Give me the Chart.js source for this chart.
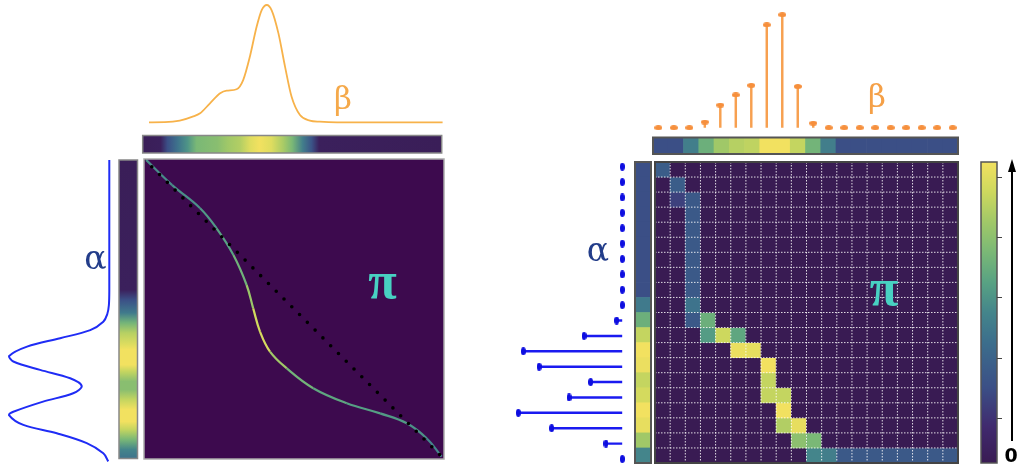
<!DOCTYPE html>
<html>
<head>
<meta charset="utf-8">
<script src="https://cdn.jsdelivr.net/npm/chart.js@4.4.1/dist/chart.umd.min.js"></script>
<style>
html, body { margin: 0; padding: 0; background: #fff; }
#stage { position: relative; width: 1017px; height: 467px; overflow: hidden; }
#stage canvas { position: absolute; }
.lbl { position: absolute; z-index: 5; line-height: 1; white-space: nowrap; transform: translate(-50%, -50%); font-family: "DejaVu Serif", serif; }
.pi { font-family: "Liberation Serif", serif; font-weight: bold; font-size: 52px; color: #48d1c2; }
</style>
</head>
<body>
<div id="stage">
  <span class="lbl" style="left:343px; top:97.5px; font-size:31px; color:#f5a94a;">β</span>
  <span class="lbl" style="left:95.5px; top:256.5px; font-size:33px; color:#233d8a;">α</span>
  <span class="lbl pi" style="left:382.5px; top:281px;">π</span>
  <span class="lbl" style="left:877px; top:95.5px; font-size:31px; color:#f5a047;">β</span>
  <span class="lbl" style="left:598px; top:249px; font-size:33px; color:#233d8a;">α</span>
  <span class="lbl pi" style="left:884px; top:287.5px;">π</span>
  <span class="lbl" style="left:1011px; top:455px; font-size:19px; font-weight:bold; color:#000; font-family:'DejaVu Sans', sans-serif;">0</span>
</div>
<script>
// ---- left panel: continuous densities (position 0..1, density 0..1) ----
const betaPos  = [0.021, 0.074, 0.124, 0.167, 0.192, 0.225, 0.259, 0.281, 0.314, 0.336, 0.359, 0.381, 0.398, 0.415, 0.431, 0.454, 0.476, 0.498, 0.526, 0.559, 0.592, 0.65, 1.003];
const betaDens = [0, 0.001, 0.014, 0.048, 0.077, 0.162, 0.247, 0.27, 0.282, 0.36, 0.566, 0.815, 0.957, 1.0, 0.957, 0.758, 0.475, 0.218, 0.062, 0.014, 0.005, 0, 0];
const betaBarPos   = [0, 0.06, 0.083, 0.117, 0.15, 0.18, 0.25, 0.285, 0.325, 0.36, 0.39, 0.43, 0.47, 0.5, 0.535, 0.565, 0.59, 1];
const betaBarShade = [0.02, 0.04, 0.25, 0.42, 0.55, 0.7, 0.74, 0.8, 0.84, 0.95, 1.0, 0.95, 0.82, 0.7, 0.47, 0.27, 0.04, 0.02];

const alphaPos  = [0, 0.435, 0.485, 0.515, 0.541, 0.569, 0.596, 0.624, 0.656, 0.674, 0.702, 0.730, 0.756, 0.780, 0.808, 0.842, 0.853, 0.886, 0.914, 0.947, 0.981, 1.008];
const alphaDens = [0, 0, 0.004, 0.02, 0.06, 0.19, 0.49, 0.82, 1.0, 0.957, 0.69, 0.39, 0.275, 0.36, 0.66, 0.957, 1.0, 0.857, 0.524, 0.225, 0.06, 0.01];
const alphaBarPos   = [0, 0.435, 0.468, 0.512, 0.545, 0.579, 0.619, 0.635, 0.686, 0.709, 0.742, 0.769, 0.803, 0.836, 0.876, 0.903, 0.936, 0.97, 1];
const alphaBarShade = [0.02, 0.04, 0.25, 0.45, 0.68, 0.85, 0.95, 1.0, 1.0, 0.88, 0.74, 0.74, 0.88, 1.0, 1.0, 0.88, 0.7, 0.5, 0.42];

// transport map (u = beta position, v = alpha position)
const piU     = [0.007, 0.094, 0.187, 0.242, 0.298, 0.342, 0.364, 0.387, 0.42, 0.476, 0.564, 0.676, 0.787, 0.876, 0.942, 0.992];
const piV     = [0.003, 0.087, 0.164, 0.231, 0.32, 0.42, 0.498, 0.576, 0.642, 0.698, 0.764, 0.814, 0.848, 0.881, 0.931, 0.992];
const piShade = [0.52, 0.52, 0.55, 0.58, 0.62, 0.72, 0.85, 0.97, 0.88, 0.72, 0.64, 0.6, 0.58, 0.56, 0.52, 0.48];
const diagU = [0, 1];
const diagV = [0, 1];

// ---- right panel: 20 bins ----
const binLabels = Array.from({ length: 20 }, (_, i) => i);
const betaMass  = [0, 0, 0, 0.05, 0.2, 0.29, 0.375, 0.91, 1.0, 0.365, 0.04, 0, 0, 0, 0, 0, 0, 0, 0, 0];
const alphaMass = [0, 0, 0, 0, 0, 0, 0, 0, 0, 0, 0.054, 0.368, 0.952, 0.8, 0.304, 0.512, 1.0, 0.679, 0.157, 0];
const betaShade  = [0.25, 0.25, 0.47, 0.66, 0.8, 0.85, 0.87, 1.0, 1.0, 0.88, 0.68, 0.47, 0.25, 0.25, 0.25, 0.25, 0.25, 0.25, 0.25, 0.25];
const alphaShade = [0.25, 0.25, 0.25, 0.25, 0.25, 0.25, 0.25, 0.25, 0.25, 0.45, 0.66, 0.88, 1.0, 0.98, 0.88, 0.92, 1.0, 0.97, 0.8, 0.5];
// [row, col, shade] of the non-empty coupling cells
const piCells = [
    [0, 0, 0.32], [1, 1, 0.32], [2, 1, 0.2], [2, 2, 0.3],
    [3, 2, 0.3], [4, 2, 0.3], [5, 2, 0.3], [6, 2, 0.3], [7, 2, 0.3], [8, 2, 0.3],
    [9, 2, 0.42], [10, 2, 0.3], [10, 3, 0.66],
    [11, 3, 0.58], [11, 4, 0.9], [11, 5, 0.62],
    [12, 5, 0.98], [12, 6, 0.97], [13, 7, 1.0], [14, 7, 0.88],
    [15, 7, 0.88], [15, 8, 0.88], [16, 8, 1.0], [17, 8, 0.84], [17, 9, 0.97],
    [18, 9, 0.75], [18, 10, 0.7],
    [19, 10, 0.5], [19, 11, 0.47], [19, 12, 0.3], [19, 13, 0.3], [19, 14, 0.3], [19, 15, 0.3],
    [19, 16, 0.3], [19, 17, 0.3], [19, 18, 0.3], [19, 19, 0.3]
];
const cbTicks = [0.15, 0.35, 0.55, 0.75, 0.95];

// washed viridis, as it looks in the picture
const vStops = [
    [0.00, [57, 27, 83]], [0.12, [64, 42, 110]], [0.25, [59, 79, 134]], [0.40, [60, 110, 140]],
    [0.50, [68, 133, 139]], [0.60, [88, 162, 131]], [0.70, [122, 184, 118]], [0.80, [160, 200, 104]],
    [0.90, [205, 216, 94]], [1.00, [242, 225, 96]]
];

function shade(v) {
    v = Math.max(0, Math.min(1, v));
    for (let i = 1; i < vStops.length; i++) {
        const [p1, c1] = vStops[i];
        if (v <= p1) {
            const [p0, c0] = vStops[i - 1];
            const f = (v - p0) / (p1 - p0);
            return 'rgb(' + c0.map((c, k) => Math.round(c + (c1[k] - c) * f)).join(',') + ')';
        }
    }
    return 'rgb(242,225,96)';
}

Chart.defaults.animation = false;
Chart.defaults.responsive = false;
Chart.defaults.events = [];
Chart.defaults.plugins.legend.display = false;
Chart.defaults.plugins.tooltip.enabled = false;

// fill chart area before datasets
Chart.register({
    id: 'backdrop',
    beforeDatasetsDraw(chart, args, opts) {
        if (!opts || !opts.color) return;
        const a = chart.chartArea;
        chart.ctx.save();
        chart.ctx.fillStyle = opts.color;
        chart.ctx.fillRect(a.left, a.top, a.right - a.left, a.bottom - a.top);
        chart.ctx.restore();
    }
});

// dotted white cell grid
Chart.register({
    id: 'cellgrid',
    afterDatasetsDraw(chart, args, opts) {
        if (!opts || !opts.count) return;
        const a = chart.chartArea, ctx = chart.ctx;
        const sx = chart.scales.x, sy = chart.scales.y;
        ctx.save();
        ctx.strokeStyle = 'rgba(255,255,255,0.85)';
        ctx.lineWidth = 1;
        ctx.setLineDash([1.5, 1.5]);
        for (let i = 1; i < opts.count; i++) {
            const px = (sx.getPixelForValue(i - 1) + sx.getPixelForValue(i)) / 2;
            ctx.beginPath(); ctx.moveTo(px, a.top); ctx.lineTo(px, a.bottom); ctx.stroke();
            const py = sy.getPixelForValue(i);
            ctx.beginPath(); ctx.moveTo(a.left, py); ctx.lineTo(a.right, py); ctx.stroke();
        }
        ctx.restore();
    }
});

// border round the chart area
Chart.register({
    id: 'frame',
    afterDraw(chart, args, opts) {
        if (!opts || !opts.color) return;
        const a = chart.chartArea, ctx = chart.ctx;
        ctx.save();
        ctx.strokeStyle = opts.color;
        ctx.lineWidth = opts.width || 1;
        ctx.strokeRect(a.left, a.top, a.right - a.left, a.bottom - a.top);
        ctx.restore();
    }
});

const stage = document.getElementById('stage');

// put a chart so that its chart area is exactly rect = [x, y, w, h] on the page
function place(rect, config, pad = 6) {
    const [x, y, w, h] = rect;
    const left = Math.floor(x) - pad, top = Math.floor(y) - pad;
    const width = Math.ceil(x + w) + pad - left, height = Math.ceil(y + h) + pad - top;
    const canvas = document.createElement('canvas');
    canvas.width = width;
    canvas.height = height;
    canvas.style.left = left + 'px';
    canvas.style.top = top + 'px';
    canvas.style.width = width + 'px';
    canvas.style.height = height + 'px';
    stage.appendChild(canvas);
    config.options = config.options || {};
    config.options.layout = { padding: { left: x - left, top: y - top, right: left + width - x - w, bottom: top + height - y - h } };
    return new Chart(canvas, config);
}

function hiddenLinear(extra) {
    return Object.assign({ type: 'linear', min: 0, max: 1, display: false }, extra || {});
}

function gradientFill(positions, shades, axis) {
    return (ctx) => {
        const chart = ctx.chart;
        if (!chart.chartArea) return shade(0);
        const s = chart.scales[axis];
        const p0 = s.getPixelForValue(0), p1 = s.getPixelForValue(1);
        const g = axis === 'x'
            ? chart.ctx.createLinearGradient(p0, 0, p1, 0)
            : chart.ctx.createLinearGradient(0, p0, 0, p1);
        positions.forEach((p, i) => g.addColorStop(Math.max(0, Math.min(1, p)), shade(shades[i])));
        return g;
    };
}

function makeDot(w, h, color) {
    const c = document.createElement('canvas');
    c.width = w;
    c.height = h;
    const g = c.getContext('2d');
    g.fillStyle = color;
    g.beginPath();
    g.ellipse(w / 2, h / 2, w / 2, h / 2, 0, 0, Math.PI * 2);
    g.fill();
    return c;
}

// ================= left panel =================

// beta density curve
place([142.7, 5, 299, 117.3], {
    type: 'scatter',
    data: {
        datasets: [{
            data: betaPos.map((t, i) => ({ x: t, y: betaDens[i] })),
            showLine: true, pointRadius: 0, borderColor: '#f7b24a', borderWidth: 1.8,
            cubicInterpolationMode: 'monotone', clip: false
        }]
    },
    options: { scales: { x: hiddenLinear(), y: hiddenLinear() } }
});

// beta colour strip
place([142.7, 135.5, 299, 17.5], {
    type: 'bar',
    data: {
        labels: [''],
        datasets: [{ data: [[0, 1]], backgroundColor: gradientFill(betaBarPos, betaBarShade, 'x'), barPercentage: 1, categoryPercentage: 1, borderWidth: 0 }]
    },
    options: {
        indexAxis: 'y',
        scales: { x: hiddenLinear(), y: { display: false } },
        plugins: { frame: { color: '#888', width: 1.5 } }
    }
});

// alpha density curve (points to the left)
place([9, 160, 100.3, 299], {
    type: 'scatter',
    data: {
        datasets: [{
            data: alphaPos.map((s, i) => ({ x: alphaDens[i], y: s })),
            showLine: true, pointRadius: 0, borderColor: '#1f2cf5', borderWidth: 2,
            tension: 0.35, clip: false
        }]
    },
    options: { scales: { x: hiddenLinear({ reverse: true }), y: hiddenLinear({ reverse: true }) } }
});

// alpha colour strip
place([119, 160, 18.5, 298.5], {
    type: 'bar',
    data: {
        labels: [''],
        datasets: [{ data: [[0, 1]], backgroundColor: gradientFill(alphaBarPos, alphaBarShade, 'y'), barPercentage: 1, categoryPercentage: 1, borderWidth: 0 }]
    },
    options: {
        scales: { x: { display: false }, y: hiddenLinear({ reverse: true }) },
        plugins: { frame: { color: '#888', width: 1.5 } }
    }
});

// transport plan pi
place([144, 159, 300, 300], {
    type: 'scatter',
    data: {
        datasets: [
            {
                data: diagU.map((u, i) => ({ x: u, y: diagV[i] })),
                showLine: true, pointRadius: 0, borderColor: '#000', borderWidth: 3.6,
                borderDash: [0, 11], borderCapStyle: 'round'
            },
            {
                data: [{ x: 1.014, y: 1.006 }],
                pointRadius: 1.7, backgroundColor: '#000', borderWidth: 0, clip: false
            },
            {
                data: piU.map((u, i) => ({ x: u, y: piV[i] })),
                showLine: true, pointRadius: 0, borderWidth: 2.2, tension: 0.4,
                borderColor: shade(0.6),
                segment: { borderColor: (c) => shade((piShade[c.p0DataIndex] + piShade[c.p1DataIndex]) / 2) }
            }
        ]
    },
    options: {
        scales: { x: hiddenLinear(), y: hiddenLinear({ reverse: true }) },
        plugins: { backdrop: { color: '#3d0a4e' }, frame: { color: '#aaa', width: 1.5 } }
    }
});

// ================= right panel =================

const orangeDot = makeDot(8, 5, '#f68f3c');
const blueDot = makeDot(5, 8, '#0d0de0');

// beta stems
place([650.6, 14.7, 309.8, 113], {
    type: 'bar',
    data: {
        labels: binLabels,
        datasets: [
            { type: 'line', data: betaMass, showLine: false, pointStyle: orangeDot, pointRadius: 3, clip: false },
            { data: betaMass, backgroundColor: '#f7a050', barThickness: 1.8, borderWidth: 0 }
        ]
    },
    options: { scales: { x: { display: false }, y: hiddenLinear() } }
});

// beta colour strip
place([653, 137.5, 305, 16.5], {
    type: 'bar',
    data: {
        labels: binLabels,
        datasets: [{ data: binLabels.map(() => 1), backgroundColor: betaShade.map(shade), barPercentage: 1, categoryPercentage: 1, borderWidth: 0 }]
    },
    options: {
        scales: { x: { display: false }, y: hiddenLinear() },
        plugins: { frame: { color: '#555', width: 2 } }
    }
});

// alpha stems
place([518.3, 159, 104, 307.7], {
    type: 'bar',
    data: {
        labels: binLabels,
        datasets: [
            { type: 'line', data: alphaMass, showLine: false, pointStyle: blueDot, pointRadius: 3, clip: false },
            { data: alphaMass, backgroundColor: '#1a1af0', barThickness: 1.8, borderWidth: 0 }
        ]
    },
    options: {
        indexAxis: 'y',
        scales: { x: hiddenLinear({ reverse: true }), y: { display: false } }
    }
});

// alpha colour strip
place([635, 162, 16, 301], {
    type: 'bar',
    data: {
        labels: binLabels,
        datasets: [{ data: binLabels.map(() => 1), backgroundColor: alphaShade.map(shade), barPercentage: 1, categoryPercentage: 1, borderWidth: 0 }]
    },
    options: {
        indexAxis: 'y',
        scales: { x: hiddenLinear(), y: { display: false } },
        plugins: { frame: { color: '#555', width: 2 } }
    }
});

// coupling matrix: one stacked dataset per row
const cellGrid = binLabels.map(() => binLabels.map(() => 0));
piCells.forEach(([r, c, s]) => { cellGrid[r][c] = s; });

place([655, 162, 303, 301], {
    type: 'bar',
    data: {
        labels: binLabels,
        datasets: cellGrid.map((row) => ({
            data: row.map(() => 1),
            backgroundColor: row.map(shade),
            barPercentage: 1, categoryPercentage: 1, borderWidth: 0
        }))
    },
    options: {
        scales: {
            x: { stacked: true, display: false },
            y: { stacked: true, min: 0, max: 20, reverse: true, display: false }
        },
        plugins: { backdrop: { color: shade(0) }, cellgrid: { count: 20 }, frame: { color: '#444', width: 2 } }
    }
});

// colour scale with its arrow
const arrow = {
    id: 'arrow',
    afterDraw(chart) {
        const a = chart.chartArea, ctx = chart.ctx, sy = chart.scales.y;
        ctx.save();
        ctx.strokeStyle = '#444';
        ctx.lineWidth = 1;
        cbTicks.forEach((t) => {
            const py = Math.round(sy.getPixelForValue(t)) + 0.5;
            ctx.beginPath(); ctx.moveTo(a.right, py); ctx.lineTo(a.right + 5, py); ctx.stroke();
        });
        const ax = a.right + 15;
        ctx.strokeStyle = '#000';
        ctx.fillStyle = '#000';
        ctx.lineWidth = 2;
        ctx.beginPath(); ctx.moveTo(ax, a.bottom - 22); ctx.lineTo(ax, a.top + 8); ctx.stroke();
        ctx.beginPath();
        ctx.moveTo(ax, a.top - 3);
        ctx.lineTo(ax - 4, a.top + 10);
        ctx.lineTo(ax + 4, a.top + 10);
        ctx.closePath();
        ctx.fill();
        ctx.restore();
    }
};

place([981, 162, 16, 301], {
    type: 'bar',
    data: {
        labels: [''],
        datasets: [{ data: [[0, 1]], backgroundColor: gradientFill(vStops.map(s => s[0]), vStops.map(s => s[0]), 'y'), barPercentage: 1, categoryPercentage: 1, borderWidth: 0 }]
    },
    options: {
        scales: { x: { display: false }, y: hiddenLinear() },
        plugins: { frame: { color: '#555', width: 1.5 } }
    },
    plugins: [arrow]
}, 22);
</script>
</body>
</html>
